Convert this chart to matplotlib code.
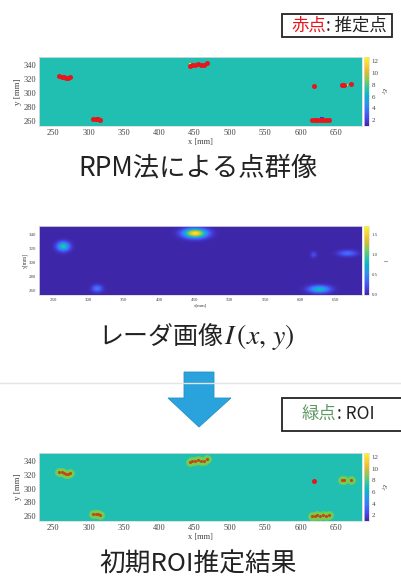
import numpy as np
import matplotlib
matplotlib.use("Agg")
import matplotlib.pyplot as plt
from matplotlib.colors import LinearSegmentedColormap
from matplotlib.patches import Rectangle, Polygon
from matplotlib.lines import Line2D

plt.rcParams['mathtext.fontset'] = 'stix'

CJK = ['Noto Sans CJK JP', 'DejaVu Sans']
SERIF = ['Liberation Serif', 'DejaVu Serif']

# --- data ---
# estimated points (x, y) in mm from RPM
pts_x = [259, 262, 265, 268, 271, 274,
         306, 310, 314, 317,
         443, 447, 451, 455, 459, 463, 467,
         619,
         659, 662, 671,
         616, 620, 624, 628, 632, 636, 640]
pts_y = [325, 324, 323, 322, 322, 323,
         263, 263, 263, 262,
         339, 341, 341, 342, 341, 341, 343,
         311,
         312, 312, 313,
         261, 261, 262, 261, 262, 261, 262]
# points kept inside an ROI (1) or rejected (0)
in_roi = [1, 1, 1, 1, 1, 1,
          1, 1, 1, 1,
          1, 1, 1, 1, 1, 1, 1,
          0,
          1, 1, 1,
          1, 1, 1, 1, 1, 1, 1]

# relative permittivity map: background plus a few deviating cells
eps_bg = 7.0
eps_cells_x = [268, 270, 444, 446, 666, 630, 632]
eps_cells_y = [322, 322, 342, 342, 312, 264, 264]
eps_cells_v = [11.5, 11.0, 11.8, 11.0, 11.0, 1.5, 1.8]

# radar image reflections: centre, amplitude, spread (mm)
blob_x = [451, 264, 312, 627, 667, 619]
blob_y = [342, 323, 262, 261, 313, 311]
blob_a = [1.65, 0.95, 0.45, 0.85, 0.38, 0.22]
blob_sx = [11, 6, 5, 10, 9, 3]
blob_sy = [4.5, 4.5, 3.5, 3.5, 3, 3]

xlim = (230, 687)
ylim = (253, 352)
xticks = [250, 300, 350, 400, 450, 500, 550, 600, 650]
yticks = [260, 280, 300, 320, 340]

parula = LinearSegmentedColormap.from_list('parula', [
    (0.2422, 0.1504, 0.6603), (0.2803, 0.2782, 0.9221),
    (0.2440, 0.4358, 0.9988), (0.1540, 0.5902, 0.9218),
    (0.0297, 0.7082, 0.8163), (0.1938, 0.7758, 0.6251),
    (0.5044, 0.7993, 0.3480), (0.8634, 0.7406, 0.1596),
    (0.9892, 0.8136, 0.1885), (0.9763, 0.9831, 0.0538)])

W, H = 401, 580
fig = plt.figure(figsize=(W / 100, H / 100), dpi=100)


def box(l, t, r, b):
    return [l / W, 1 - b / H, (r - l) / W, (b - t) / H]


def fx(x):
    return x / W


def fy(y):
    return 1 - y / H


gx = np.arange(xlim[0], xlim[1] + 1, 1.0)
gy = np.arange(ylim[0], ylim[1] + 1, 1.0)
GX, GY = np.meshgrid(gx, gy)

eps = np.full(GX.shape, eps_bg)
for cx, cy, v in zip(eps_cells_x, eps_cells_y, eps_cells_v):
    eps[(abs(GX - cx) <= 1.5) & (abs(GY - cy) <= 1.5)] = v

radar = np.zeros(GX.shape)
for cx, cy, a, sx, sy in zip(blob_x, blob_y, blob_a, blob_sx, blob_sy):
    radar += a * np.exp(-((GX - cx) ** 2 / (2 * sx ** 2) + (GY - cy) ** 2 / (2 * sy ** 2)))


def style_axes(ax, fs, xlabel, ylabel):
    ax.set_xlim(xlim)
    ax.set_ylim(ylim)
    ax.set_xticks(xticks)
    ax.set_yticks(yticks)
    ax.tick_params(length=0, labelsize=fs, pad=2)
    for lab in ax.get_xticklabels() + ax.get_yticklabels():
        lab.set_family(SERIF)
        lab.set_color('#444444')
    for s in ax.spines.values():
        s.set_color('#dddddd')
        s.set_linewidth(0.6)
    ax.set_xlabel(xlabel, family=SERIF, fontsize=fs, color='#444444', labelpad=1)
    ax.set_ylabel(ylabel, family=SERIF, fontsize=fs + 0.5, color='#444444', labelpad=1)


def colorbar(im, rect, ticks, fs, label, lfs):
    cax = fig.add_axes(rect)
    cb = fig.colorbar(im, cax=cax, ticks=ticks)
    cb.outline.set_edgecolor('#dddddd')
    cb.outline.set_linewidth(0.5)
    cax.tick_params(length=0, labelsize=fs, pad=2)
    for lab in cax.get_yticklabels():
        lab.set_family(SERIF)
        lab.set_color('#444444')
    cb.set_label(label, fontsize=lfs, rotation=270, labelpad=6, color='#444444')


def legend_box(l, t, r, b, key, key_color, rest, x0, yc):
    fig.patches.append(Rectangle((fx(l), fy(b)), (r - l) / W, (b - t) / H,
                                 transform=fig.transFigure, facecolor='white',
                                 edgecolor='#222222', linewidth=1.3))
    t_key = fig.text(fx(x0), fy(yc), key, family=CJK, fontsize=12.5, color=key_color,
                     ha='left', va='center')
    # rest of the label follows right after the coloured key
    fig.add_artist(plt.Annotation(rest, xy=(1, 0.5), xycoords=t_key, va='center',
                                  ha='left', family=CJK, fontsize=12.5, color='#222222'))


# panel 1: point cloud by RPM
ax1 = fig.add_axes(box(39, 57, 362, 126))
im1 = ax1.imshow(eps, extent=(xlim[0], xlim[1], ylim[0], ylim[1]), origin='lower',
                 aspect='auto', cmap=parula, vmin=1, vmax=12.7, interpolation='nearest')
ax1.scatter(pts_x, pts_y, s=13, color='#e8161b', linewidths=0, zorder=3)
style_axes(ax1, 6, 'x [mm]', 'y [mm]')
colorbar(im1, box(364, 57, 369, 126), [2, 4, 6, 8, 10, 12], 5, r'$\varepsilon_r$', 6)

# panel 2: radar image
ax2 = fig.add_axes(box(39, 226, 362, 295))
im2 = ax2.imshow(radar, extent=(xlim[0], xlim[1], ylim[0], ylim[1]), origin='lower',
                 aspect='auto', cmap=parula, vmin=0, vmax=1.72, interpolation='bilinear')
style_axes(ax2, 3.5, 'x[mm]', 'y[mm]')
colorbar(im2, box(364, 226, 369, 295), [0, 0.5, 1, 1.5], 3.5, 'I', 4)

# panel 3: initial ROI estimation
ax3 = fig.add_axes(box(39, 453, 362, 521))
im3 = ax3.imshow(eps, extent=(xlim[0], xlim[1], ylim[0], ylim[1]), origin='lower',
                 aspect='auto', cmap=parula, vmin=1, vmax=12.7, interpolation='nearest')
roi = np.array(in_roi, dtype=bool)
px = np.array(pts_x)
py = np.array(pts_y)
ax3.scatter(px[roi], py[roi], s=40, marker='o', color='#74cf4c', alpha=0.9,
            linewidths=0, zorder=2)
ax3.scatter(px[roi], py[roi], s=5, color='#c8441a', linewidths=0, zorder=3)
ax3.scatter(px[~roi], py[~roi], s=13, color='#e8161b', linewidths=0, zorder=4)
style_axes(ax3, 6, 'x [mm]', 'y [mm]')
colorbar(im3, box(364, 453, 369, 521), [2, 4, 6, 8, 10, 12], 5, r'$\varepsilon_r$', 6)

# captions
fig.text(fx(198), fy(168), 'RPM法による点群像', family=CJK, fontsize=19,
         ha='center', va='center', color='#222222')
fig.text(fx(223), fy(344), 'レーダ画像', family=CJK, fontsize=18,
         ha='right', va='baseline', color='#222222')
fig.text(fx(224), fy(344), r'$I\,(x,\,y)$', fontsize=20,
         ha='left', va='baseline', color='#222222')
fig.text(fx(198), fy(565), '初期ROI推定結果', family=CJK, fontsize=18.5,
         ha='center', va='center', color='#222222')

# legend boxes
legend_box(282, 14, 392, 37, '赤点', '#e8161b', ': 推定点', 291, 26)
legend_box(282, 398, 402, 431, '緑点', '#5e9a64', ': ROI', 302, 414)

# separator and arrow
fig.lines.append(Line2D([0, 1], [fy(383), fy(383)], transform=fig.transFigure,
                        color='#e4e4e4', linewidth=1))
arrow = [(184, 372), (214, 372), (214, 398), (231, 398), (199, 427),
         (168, 398), (184, 398)]
fig.patches.append(Polygon([(fx(x), fy(y)) for x, y in arrow], closed=True,
                           transform=fig.transFigure, facecolor='#2aa3dc',
                           edgecolor='#2391c6', linewidth=0.6))

fig.savefig('out.png', dpi=100)
